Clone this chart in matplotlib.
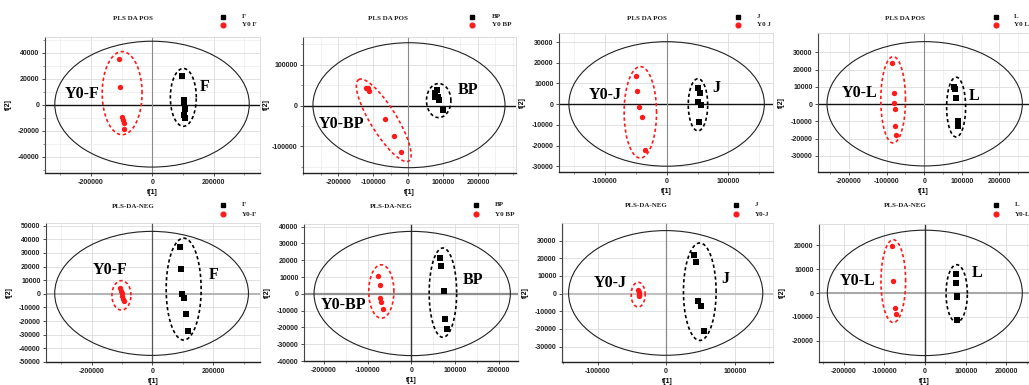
import numpy as np
import matplotlib
matplotlib.use("Agg")
import matplotlib.pyplot as plt
from matplotlib.patches import Ellipse
from matplotlib.lines import Line2D
from matplotlib.ticker import FixedLocator, MultipleLocator, NullLocator

# ---------------- data (scores t[1], t[2]) ----------------
F_pos_x = [96600, 102000, 102000, 105000, 102000, 105000]
F_pos_y = [21700, 3600, 1000, -2900, -7500, -10000]
Y0F_pos_x = [-109500, -104000, -98500, -95000, -93000, -91000]
Y0F_pos_y = [35000, 14000, -9300, -12000, -14000, -18600]

BP_pos_x = [76600, 81500, 84400, 89000, 76600, 100400]
BP_pos_y = [30900, 37500, 21000, 13000, 21000, -11500]
Y0BP_pos_x = [-121400, -114800, -112000, -66900, -41000, -19000]
Y0BP_pos_y = [44000, 44000, 35800, -31900, -75200, -114500]

J_pos_x = [51200, 54000, 51200, 55100, 52800]
J_pos_y = [8000, 5300, 800, -300, -8400]
Y0J_pos_x = [-50200, -48600, -44900, -40500, -35200]
Y0J_pos_y = [13700, 6400, -1450, -6300, -22100]

L_pos_x = [80000, 81900, 83700, 89000, 89000]
L_pos_y = [10200, 8700, 3500, -9500, -12900]
Y0L_pos_x = [-87000, -80800, -80000, -78100, -78100, -75500]
Y0L_pos_y = [23700, 6700, 900, -2700, -12900, -17700]

F_neg_x = [91100, 93400, 98700, 104300, 109900, 116400]
F_neg_y = [34100, 18300, 0, -2900, -14600, -27000]
Y0F_neg_x = [-108000, -105000, -102000, -99000, -96500, -94000]
Y0F_neg_y = [4400, 2400, 500, -1500, -3500, -5400]

BP_neg_x = [65900, 67500, 73700, 76700, 80600]
BP_neg_y = [21300, 16700, 1800, -15100, -21100]
Y0BP_neg_x = [-76000, -72300, -72300, -69100, -64500]
Y0BP_neg_y = [10900, 5400, -2600, -4600, -9100]

J_neg_x = [40800, 43200, 47000, 50500, 55300]
J_neg_y = [22100, 17700, -4400, -6800, -21300]
Y0J_neg_x = [-41000, -40000, -39500, -39000, -40000]
Y0J_neg_y = [2000, 1000, 0, -1000, -1500]

L_neg_x = [75400, 76200, 77900, 79400, 79400]
L_neg_y = [8100, 4200, -1100, -1700, -11500]
Y0L_neg_x = [-81800, -77900, -73700, -71300]
Y0L_neg_y = [19600, 5200, -6100, -8700]

titles = ["PLS DA POS"] * 4 + ["PLS-DA-NEG"] * 4
group_names = ["F", "BP", "J", "L", "F", "BP", "J", "L"]
legend_ctrl = ["Y0 F", "Y0 BP", "Y0 J", "Y0 L", "Y0-F", "Y0 BP", "Y0-J", "Y0-L"]
cluster_labels = ["Y0-F", "Y0-BP", "Y0-J", "Y0-L", "Y0-F", "Y0-BP", "Y0-J", "Y0-L"]

series = [
    (F_pos_x, F_pos_y, Y0F_pos_x, Y0F_pos_y),
    (BP_pos_x, BP_pos_y, Y0BP_pos_x, Y0BP_pos_y),
    (J_pos_x, J_pos_y, Y0J_pos_x, Y0J_pos_y),
    (L_pos_x, L_pos_y, Y0L_pos_x, Y0L_pos_y),
    (F_neg_x, F_neg_y, Y0F_neg_x, Y0F_neg_y),
    (BP_neg_x, BP_neg_y, Y0BP_neg_x, Y0BP_neg_y),
    (J_neg_x, J_neg_y, Y0J_neg_x, Y0J_neg_y),
    (L_neg_x, L_neg_y, Y0L_neg_x, Y0L_neg_y),
]

x_ticks = [
    [-200000, 0, 200000],
    [-200000, -100000, 0, 100000, 200000],
    [-100000, 0, 100000],
    [-200000, -100000, 0, 100000, 200000],
    [-200000, 0, 200000],
    [-200000, -100000, 0, 100000, 200000],
    [-100000, 0, 100000],
    [-200000, -100000, 0, 100000, 200000],
]
y_ticks = [
    [-40000, -20000, 0, 20000, 40000],
    [-100000, 0, 100000],
    [-30000, -20000, -10000, 0, 10000, 20000, 30000],
    [-30000, -20000, -10000, 0, 10000, 20000, 30000],
    [-50000, -40000, -30000, -20000, -10000, 0, 10000, 20000, 30000, 40000, 50000],
    [-40000, -30000, -20000, -10000, 0, 10000, 20000, 30000, 40000],
    [-30000, -20000, -10000, 0, 10000, 20000, 30000],
    [-20000, -10000, 0, 10000, 20000],
]

# ---------------- layout / decoration ----------------
W, H = 1029, 385
# axes boxes in pixels: left, right, top, bottom
boxes = [
    (45, 260, 37, 173), (303, 516, 37, 173), (559, 773, 33, 172), (818, 1029, 33, 172),
    (46, 260, 223, 362), (304, 518, 224, 361), (562, 773, 223, 362), (819, 1029, 224, 362),
]
xlims = [(-350000, 351000), (-301000, 309000), (-174000, 172000), (-282700, 279000),
         (-350700, 354000), (-245900, 244000), (-151800, 155700), (-260400, 255500)]
ylims = [(-52400, 52000), (-165000, 168000), (-32800, 34400), (-39300, 41200),
         (-50000, 52000), (-40000, 41600), (-38700, 40000), (-29000, 29000)]
x_minor = [100000, 50000, 50000, 50000, 100000, 50000, 50000, 50000]
y_minor = [10000, 50000, None, None, None, None, None, None]

# Hotelling ellipse (cx, cy, a, b)
t2_ell = [(-1000, 450, 317000, 48300), (2500, 1000, 275000, 153000), (0, 100, 158000, 30100),
          (1300, 200, 260000, 36000), (-3000, 350, 319000, 45500), (1800, 200, 224700, 37000),
          (-700, 400, 141500, 35300), (-400, 50, 239500, 26350)]
# group ellipses: centre, p vector, q vector (point = c + p cos t + q sin t)
grp_red = [((-98500, 8900), (65000, 0), (0, 31900)),
           ((-69750, -36000), (-71750, 99700), (31850, 16700)),
           ((-42500, -3950), (26200, 0), (0, 22100)),
           ((-82600, 2500), (32900, 0), (0, 25000)),
           ((-102300, -1100), (31300, 0), (0, 10800)),
           ((-68900, 1400), (28800, 0), (0, 15900)),
           ((-40800, -560), (10200, 0), (0, 7000)),
           ((-77900, 5000), (30300, 0), (0, 17400))]
grp_blk = [((101000, 5650), (42300, 0), (0, 22200)),
           ((87600, 12300), (35000, 0), (0, 41700)),
           ((50700, -300), (15700, 0), (0, 12600)),
           ((85000, -1700), (25300, 0), (0, 17300)),
           ((102600, 3500), (57600, 0), (0, 37400)),
           ((72100, 700), (31500, 0), (0, 26600)),
           ((49000, 1100), (23800, 0), (0, 27600)),
           ((77900, -200), (26200, 0), (0, 12100))]
ctrl_label_pos = [(-228600, 8000), (-191000, -44000), (-100000, 4500), (-173000, 6400),
                  (-139000, 17800), (-155000, -6600), (-81500, 6000), (-166000, 4900)]
grp_label_pos = [(169000, 13400), (172000, 39000), (81000, 7700), (132500, 4800),
                 (200700, 14100), (140500, 8400), (85900, 8300), (127000, 8600)]
# zero lines: (horizontal colour, lw), (vertical colour, lw)
zero_h = [("#111111", 1.0)] * 4 + [("#b0b0b0", 1.3), ("#909090", 1.6), ("#c0c0c0", 1.5), ("#a8a8a8", 1.5)]
zero_v = [("#8a8a8a", 0.8)] * 4 + [("#555555", 0.9), ("#333333", 1.0), ("#8a8a8a", 0.9), ("#333333", 1.0)]
# title centre, legend marker x, legend text x, legend row y (pixels)
title_xy = [(133, 18), (388, 18), (647, 18), (905, 18), (133, 207), (391, 207), (646, 206), (905, 206)]
leg_mx = [223, 472, 738, 996, 223, 476, 736, 996]
leg_tx = [242, 492, 757, 1014, 242, 495, 755, 1015]
leg_y = [(17, 25)] * 4 + [(205, 214)] * 4

RED = "#ff1a1a"
SANS = ["Liberation Sans", "DejaVu Sans"]
SERIF = ["Liberation Serif", "DejaVu Serif"]

fig = plt.figure(figsize=(W / 100, H / 100), dpi=100)
fig.patch.set_facecolor("white")


def px(x, y):
    return x / W, 1 - y / H


def draw_param_ellipse(ax, c, p, q, **kw):
    t = np.linspace(0, 2 * np.pi, 300)
    xs = c[0] + p[0] * np.cos(t) + q[0] * np.sin(t)
    ys = c[1] + p[1] * np.cos(t) + q[1] * np.sin(t)
    ax.plot(xs, ys, **kw)


for i in range(8):
    L, R, T, B = boxes[i]
    ax = fig.add_axes([L / W, 1 - B / H, (R - L) / W, (B - T) / H])
    ax.set_xlim(*xlims[i])
    ax.set_ylim(*ylims[i])
    ax.set_facecolor("white")

    ax.xaxis.set_major_locator(FixedLocator(x_ticks[i]))
    ax.yaxis.set_major_locator(FixedLocator(y_ticks[i]))
    ax.xaxis.set_minor_locator(MultipleLocator(x_minor[i]))
    if y_minor[i]:
        ax.yaxis.set_minor_locator(MultipleLocator(y_minor[i]))
    else:
        ax.yaxis.set_minor_locator(NullLocator())
    ax.grid(True, which="major", color="#dcdcdc", lw=0.6)
    ax.grid(True, which="minor", color="#ececec", lw=0.5)
    ax.set_axisbelow(True)

    ax.xaxis.set_major_formatter(plt.FuncFormatter(lambda v, p: f"{int(v)}"))
    ax.yaxis.set_major_formatter(plt.FuncFormatter(lambda v, p: f"{int(v)}"))
    for lab in ax.get_xticklabels() + ax.get_yticklabels():
        lab.set_fontfamily(SANS)
    ax.tick_params(axis="both", which="major", labelsize=5, length=2, width=0.6,
                   color="#333333", pad=2, labelcolor="#222222")
    ax.tick_params(axis="both", which="minor", length=1.2, width=0.5, color="#666666")
    for lab in ax.get_xticklabels() + ax.get_yticklabels():
        lab.set_fontweight("bold")

    for s in ["top", "right"]:
        ax.spines[s].set_color("#d8d8d8")
        ax.spines[s].set_linewidth(0.6)
    ax.spines["left"].set_color("#444444")
    ax.spines["left"].set_linewidth(0.8)
    ax.spines["bottom"].set_color("#222222")
    ax.spines["bottom"].set_linewidth(1.0)

    ax.axhline(0, color=zero_h[i][0], lw=zero_h[i][1], zorder=1.5)
    ax.axvline(0, color=zero_v[i][0], lw=zero_v[i][1], zorder=1.5)

    cx, cy, a, b = t2_ell[i]
    ax.add_patch(Ellipse((cx, cy), 2 * a, 2 * b, fill=False, ec="#222222", lw=0.8, zorder=2))

    c, p, q = grp_red[i]
    draw_param_ellipse(ax, c, p, q, color=RED, lw=1.2, ls=(0, (2, 1.6)), zorder=3)
    c, p, q = grp_blk[i]
    draw_param_ellipse(ax, c, p, q, color="black", lw=1.2, ls=(0, (2, 1.6)), zorder=3)

    gx, gy, cx_, cy_ = series[i]
    ax.scatter(gx, gy, marker="s", s=13, color="black", zorder=4, linewidths=0)
    ax.scatter(cx_, cy_, marker="o", s=15, color=RED, zorder=4, linewidths=0)

    ax.text(*ctrl_label_pos[i], cluster_labels[i], family=SERIF, weight="bold",
            fontsize=11.5, ha="center", va="center", zorder=5)
    ax.text(*grp_label_pos[i], group_names[i], family=SERIF, weight="bold",
            fontsize=11.5, ha="center", va="center", zorder=5)

    ax.set_xlabel("t[1]", fontsize=5, family=SANS, weight="bold")
    ax.set_ylabel("t[2]", fontsize=5, family=SANS, weight="bold")
    off_x = 16 if i < 4 else 16
    ax.xaxis.set_label_coords(0.5, -off_x / (B - T))
    ax.yaxis.set_label_coords(-33 / (R - L), 0.5)

    # title and legend (figure pixel positions)
    fig.text(*px(*title_xy[i]), titles[i], family=SERIF, weight="bold", fontsize=5,
             ha="center", va="center", color="#222222")
    y1, y2 = leg_y[i]
    fig.add_artist(Line2D([leg_mx[i] / W], [1 - y1 / H], marker="s", ms=3.2, color="black",
                          ls="none", transform=fig.transFigure))
    fig.add_artist(Line2D([leg_mx[i] / W], [1 - y2 / H], marker="o", ms=3.4, color=RED,
                          ls="none", transform=fig.transFigure))
    fig.text(*px(leg_tx[i], y1), group_names[i], family=SERIF, weight="bold", fontsize=5,
             ha="left", va="center", color="#222222")
    fig.text(*px(leg_tx[i], y2), legend_ctrl[i], family=SERIF, weight="bold", fontsize=5,
             ha="left", va="center", color="#222222")

fig.savefig("out.png", dpi=100, facecolor="white")
